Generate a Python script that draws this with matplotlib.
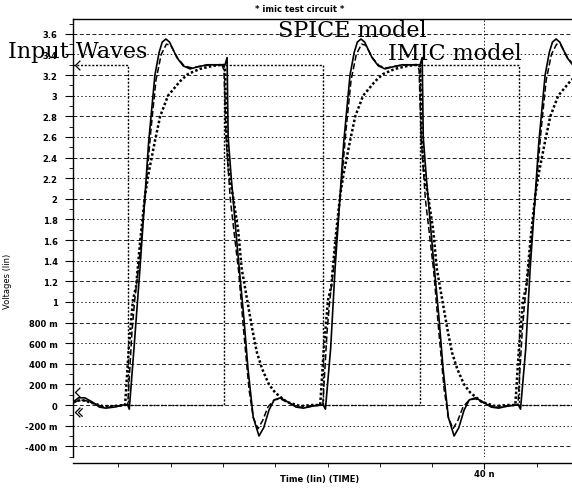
import numpy as np
import matplotlib
matplotlib.use('Agg')
import matplotlib.pyplot as plt
from matplotlib.ticker import MultipleLocator, FuncFormatter, FixedLocator

# --- data (time in ns, voltage in V) ---
input_t = [0.67, 5.93, 5.93, 15.1, 15.1, 24.55, 24.55, 33.85, 33.85, 43.3, 43.3, 48.4]
input_v = [3.3, 3.3, 0.0, 0.0, 3.3, 3.3, 0.0, 0.0, 3.3, 3.3, 0.0, 0.0]

solid_t = [0.70, 1.2, 1.8, 2.5, 3.2, 3.8, 4.6, 5.4, 5.9, 6.05, 6.5, 7.07, 7.9, 8.5, 8.9, 9.2,
           9.55, 9.9, 10.6, 11.2, 11.85, 12.6, 13.5, 14.6, 15.2, 15.4, 15.5, 15.8, 16.4, 17.0,
           17.4, 17.9, 18.45, 18.9, 19.4, 19.9, 20.5, 21.2, 22.0, 22.7, 23.6, 24.4, 24.6, 24.8,
           25.3, 25.72, 26.55, 27.15, 27.55, 27.85, 28.2, 28.55, 29.25, 29.85, 30.5, 31.25,
           32.15, 33.25, 33.85, 34.05, 34.15, 34.45, 35.05, 35.65, 36.05, 36.55, 37.1, 37.55,
           38.05, 38.55, 39.15, 39.85, 40.65, 41.35, 42.25, 43.05, 43.25, 43.45, 43.95, 44.37,
           45.2, 45.8, 46.2, 46.5, 46.85, 47.2, 47.9, 48.5]
solid_v = [0.03, 0.07, 0.07, 0.03, -0.02, -0.03, -0.02, 0.0, 0.0, -0.04, 0.55, 1.32, 2.55, 3.2,
           3.42, 3.52, 3.55, 3.52, 3.37, 3.29, 3.26, 3.28, 3.30, 3.30, 3.30, 3.37, 2.6, 2.2, 1.5,
           0.85, 0.35, -0.12, -0.30, -0.22, -0.05, 0.05, 0.07, 0.03, -0.02, -0.03, -0.01, 0.0,
           0.0, -0.04, 0.55, 1.32, 2.55, 3.2, 3.42, 3.52, 3.55, 3.52, 3.37, 3.29, 3.26, 3.28,
           3.30, 3.30, 3.30, 3.37, 2.6, 2.2, 1.5, 0.85, 0.35, -0.12, -0.30, -0.22, -0.05, 0.05,
           0.07, 0.03, -0.02, -0.03, -0.01, 0.0, 0.0, -0.04, 0.55, 1.32, 2.55, 3.2, 3.42, 3.52,
           3.55, 3.52, 3.37, 3.29]

dashed_t = [0.70, 1.3, 2.0, 2.8, 3.6, 4.6, 5.5, 5.9, 6.3, 6.55, 7.0, 7.55, 8.1, 8.6, 9.1, 9.6,
            10.0, 10.7, 11.3, 12.0, 13.0, 14.0, 14.9, 15.1, 15.3, 15.7, 16.5, 17.0, 17.5, 17.9,
            18.35, 18.8, 19.3, 19.9, 20.5, 21.3, 22.2, 23.0, 24.0, 24.55, 24.95, 25.2, 25.65,
            26.2, 26.75, 27.25, 27.75, 28.25, 28.65, 29.35, 29.95, 30.65, 31.65, 32.65, 33.55,
            33.75, 33.95, 34.35, 35.15, 35.65, 36.15, 36.55, 37.0, 37.45, 37.95, 38.55, 39.15,
            39.95, 40.85, 41.65, 42.65, 43.2, 43.6, 43.85, 44.3, 44.85, 45.4, 45.9, 46.4, 46.9,
            47.3, 48.0, 48.6]
dashed_v = [0.02, 0.05, 0.04, 0.01, -0.02, -0.02, 0.0, 0.0, 0.7, 1.0, 1.4, 2.0, 2.65, 3.15,
            3.40, 3.50, 3.49, 3.36, 3.29, 3.27, 3.29, 3.30, 3.30, 3.25, 2.6, 2.0, 1.3, 0.7, 0.15,
            -0.12, -0.23, -0.15, -0.02, 0.05, 0.06, 0.02, -0.02, -0.02, 0.0, 0.0, 0.7, 1.0, 1.4,
            2.0, 2.65, 3.15, 3.40, 3.50, 3.49, 3.36, 3.29, 3.27, 3.29, 3.30, 3.30, 3.25, 2.6,
            2.0, 1.3, 0.7, 0.15, -0.12, -0.23, -0.15, -0.02, 0.05, 0.06, 0.02, -0.02, -0.02,
            0.0, 0.0, 0.7, 1.0, 1.4, 2.0, 2.65, 3.15, 3.40, 3.50, 3.49, 3.36, 3.29]

dotted_t = [0.7, 1.5, 2.5, 3.5, 4.5, 5.65, 6.0, 6.4, 6.7, 7.1, 7.55, 7.9, 8.5, 9.0, 9.75, 10.9,
            11.65, 12.8, 14.05, 15.0, 15.2, 15.35, 15.55, 16.0, 16.45, 16.8, 17.8, 18.25, 18.75,
            19.4, 20.0, 21.1, 22.4, 23.5, 24.3, 24.65, 25.05, 25.35, 25.75, 26.2, 26.55, 27.15,
            27.65, 28.4, 29.55, 30.3, 31.45, 32.7, 33.65, 33.85, 34.0, 34.2, 34.65, 35.1, 35.45,
            36.45, 36.9, 37.4, 38.05, 38.65, 39.75, 41.05, 42.15, 42.95, 43.3, 43.7, 44.0, 44.4,
            44.85, 45.2, 45.8, 46.3, 47.05, 48.2, 48.95]
dotted_v = [0.03, 0.05, 0.02, -0.01, -0.01, 0.0, 0.55, 1.02, 1.15, 1.6, 2.03, 2.25, 2.56, 2.8,
            3.0, 3.14, 3.21, 3.26, 3.29, 3.30, 3.28, 2.6, 2.27, 2.0, 1.7, 1.32, 0.74, 0.51, 0.35,
            0.2, 0.12, 0.03, -0.01, 0.0, 0.0, 0.55, 1.02, 1.15, 1.6, 2.03, 2.25, 2.56, 2.8, 3.0,
            3.14, 3.21, 3.26, 3.29, 3.30, 3.28, 2.6, 2.27, 2.0, 1.7, 1.32, 0.74, 0.51, 0.35, 0.2,
            0.12, 0.03, -0.01, 0.0, 0.0, 0.55, 1.02, 1.15, 1.6, 2.03, 2.25, 2.56, 2.8, 3.0, 3.14,
            3.21]

grid_levels = [-0.4, -0.2, 0.0, 0.2, 0.4, 0.6, 0.8, 1.0, 1.2, 1.4, 1.6, 1.8, 2.0, 2.2, 2.4,
               2.6, 2.8, 3.0, 3.2, 3.4, 3.6]

W, H = 572, 489
fig = plt.figure(figsize=(W / 100, H / 100), dpi=100)
ax = fig.add_axes([73 / W, 1 - 458 / H, 1 - 73 / W, (458 - 20) / H])

ax.set_xlim(0.67, 48.37)
ax.set_ylim(-0.504, 3.744)

# grid, alternating dotted/dashed look of the scan
for i, lv in enumerate(grid_levels):
    ls = (0, (4, 2.5)) if i % 2 == 0 else (0, (1.5, 2.5))
    ax.axhline(lv, color='#222222', lw=0.7, ls=ls, zorder=1)
ax.axvline(40, color='#222222', lw=0.7, ls=(0, (1.5, 2)), zorder=1)

ax.plot(input_t, input_v, color='black', lw=1.0, ls=(0, (1.5, 1.2)), zorder=2)
ax.plot(dotted_t, dotted_v, color='black', lw=1.8, ls=(0, (1.0, 0.9)), zorder=3)
ax.plot(dashed_t, dashed_v, color='black', lw=1.1, ls=(0, (4, 1.8)), zorder=3)
ax.plot(solid_t, solid_v, color='black', lw=1.2, zorder=4)

# trace markers on the left edge
chev = [(1, 1), (0, 0), (1, -1)]
ax.plot([0.85], [3.3], marker=chev, ms=7, mfc='none', mec='black', mew=0.9, clip_on=False)
ax.plot([0.85], [0.13], marker=chev, ms=7, mfc='none', mec='black', mew=0.9, clip_on=False)
ax.plot([0.85], [-0.07], marker=chev, ms=7, mfc='none', mec='black', mew=0.9, clip_on=False)
ax.plot([1.15], [-0.07], marker=chev, ms=6, mfc='none', mec='black', mew=0.9, clip_on=False)

ax.spines['right'].set_visible(False)
for s in ['left', 'top', 'bottom']:
    ax.spines[s].set_linewidth(1.0)
ax.spines['bottom'].set_position(('outward', 4))


def vfmt(v, pos):
    if abs(v) < 1e-9:
        return '0'
    if abs(v) < 1:
        return f'{int(round(v * 1000))} m'
    return f'{v:g}'


ax.yaxis.set_major_locator(FixedLocator(grid_levels))
ax.yaxis.set_minor_locator(MultipleLocator(0.1))
ax.yaxis.set_major_formatter(FuncFormatter(vfmt))
ax.tick_params(axis='y', which='major', direction='out', length=6, width=0.8,
               labelsize=6, pad=5)
ax.tick_params(axis='y', which='minor', direction='out', length=3, width=0.6)
for lab in ax.get_yticklabels():
    lab.set_fontweight('bold')

ax.xaxis.set_major_locator(FixedLocator([40]))
ax.xaxis.set_minor_locator(MultipleLocator(5))
ax.xaxis.set_major_formatter(FuncFormatter(lambda v, p: '40 n'))
ax.tick_params(axis='x', which='major', direction='out', length=4, width=0.8,
               labelsize=6, pad=1)
ax.tick_params(axis='x', which='minor', direction='out', length=3, width=0.6)
for lab in ax.get_xticklabels():
    lab.set_fontweight('bold')

# texts
fig.text(300 / W, 1 - 9 / H, '* imic test circuit *', ha='center', va='center',
         fontsize=6, fontweight='bold')
fig.text(8 / W, 1 - 281 / H, 'Voltages (lin)', rotation=90, ha='center', va='center',
         fontsize=6)
fig.text(320 / W, 1 - 480 / H, 'Time (lin) (TIME)', ha='center', va='center',
         fontsize=6, fontweight='bold')

serif = ['DejaVu Serif']
fig.text(8 / W, 1 - 58 / H, 'Input Waves', ha='left', va='baseline',
         fontsize=16, family=serif)
fig.text(278 / W, 1 - 37 / H, 'SPICE model', ha='left', va='baseline',
         fontsize=16, family=serif)
fig.text(388 / W, 1 - 60 / H, 'IMIC model', ha='left', va='baseline',
         fontsize=16, family=serif)

fig.savefig('out.png', dpi=100)
